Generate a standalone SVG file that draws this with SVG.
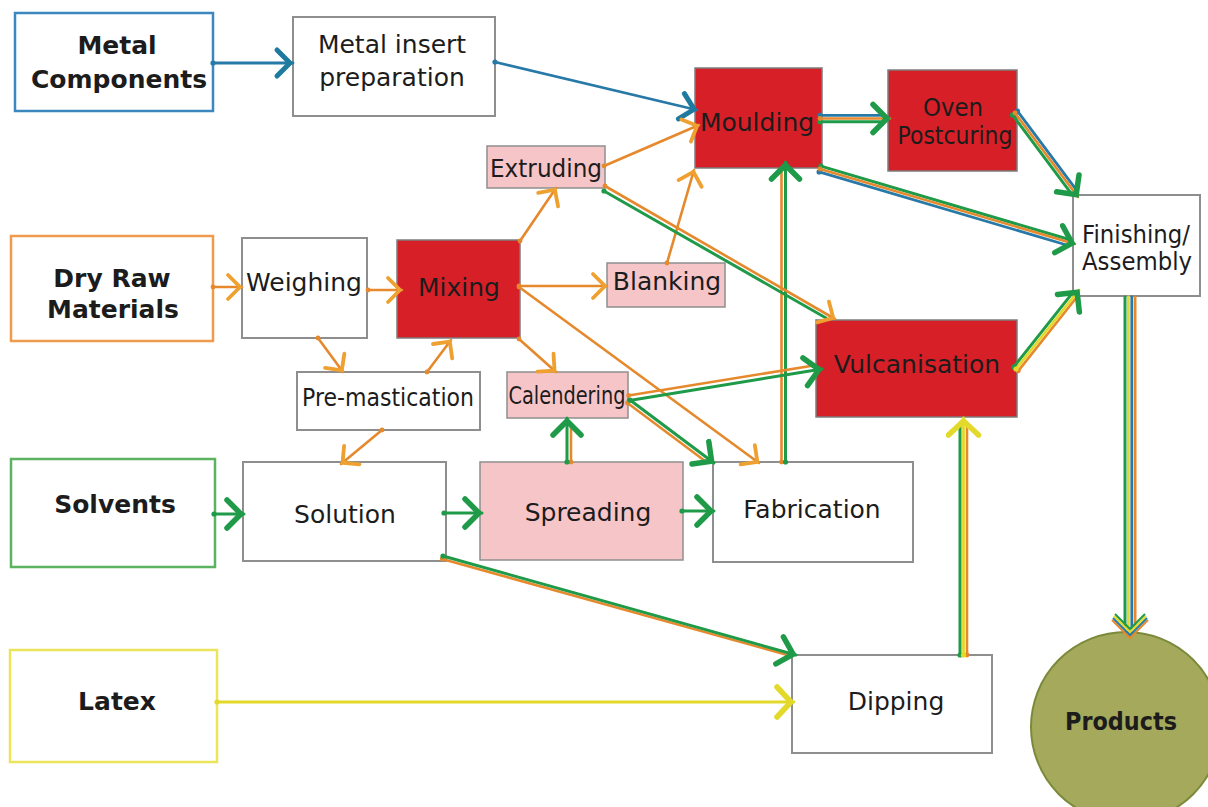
<svg xmlns="http://www.w3.org/2000/svg" width="1208" height="807" viewBox="0 0 1208 807">
<style>
.t{font-family:"DejaVu Sans",Verdana,sans-serif;font-size:25px;fill:#1c1c1c;text-anchor:middle;dominant-baseline:central}
.b{font-weight:bold}
.box{fill:#fff;stroke:#8e8e8e;stroke-width:2}
.red{fill:#d71f27;stroke:#7d7d7d;stroke-width:1.5}
.pink{fill:#f6c5c8;stroke:#8e8e8e;stroke-width:1.5}
.c{fill:none;stroke-linecap:round}
.o{stroke:#e6892c;stroke-width:2.6}
.g{stroke:#1e9a48;stroke-width:3}
.bl{stroke:#2779a7;stroke-width:2.8}
.y{stroke:#e3d92a;stroke-width:2.8}
</style>
<defs>
<marker id="mo" viewBox="-20 -18 24 36" refX="0" refY="0" markerWidth="24" markerHeight="36" markerUnits="userSpaceOnUse" orient="auto"><path d="M-14,-12 L-2,0 L-14,12" fill="none" stroke="#eea030" stroke-width="3.8" stroke-linecap="round"/></marker>
<marker id="mg" viewBox="-20 -18 24 36" refX="0" refY="0" markerWidth="24" markerHeight="36" markerUnits="userSpaceOnUse" orient="auto"><path d="M-17,-14 L-3,0 L-17,14" fill="none" stroke="#1e9a48" stroke-width="5.5" stroke-linecap="round"/></marker>
<marker id="mb" viewBox="-20 -18 24 36" refX="0" refY="0" markerWidth="24" markerHeight="36" markerUnits="userSpaceOnUse" orient="auto"><path d="M-16,-13 L-3,0 L-16,13" fill="none" stroke="#1f7aa0" stroke-width="5" stroke-linecap="round"/></marker>
<marker id="my" viewBox="-20 -18 24 36" refX="0" refY="0" markerWidth="24" markerHeight="36" markerUnits="userSpaceOnUse" orient="auto"><path d="M-17,-15 L-3,0 L-17,15" fill="none" stroke="#e3d92a" stroke-width="5.5" stroke-linecap="round"/></marker>
<marker id="dO" viewBox="-4 -4 8 8" refX="0" refY="0" markerWidth="8" markerHeight="8" markerUnits="userSpaceOnUse"><circle r="2.4" fill="#e6892c"/></marker>
<marker id="dG" viewBox="-4 -4 8 8" refX="0" refY="0" markerWidth="8" markerHeight="8" markerUnits="userSpaceOnUse"><circle r="2.6" fill="#1e9a48"/></marker>
<marker id="dB" viewBox="-4 -4 8 8" refX="0" refY="0" markerWidth="8" markerHeight="8" markerUnits="userSpaceOnUse"><circle r="2.6" fill="#2779a7"/></marker>
<marker id="dY" viewBox="-4 -4 8 8" refX="0" refY="0" markerWidth="8" markerHeight="8" markerUnits="userSpaceOnUse"><circle r="2.6" fill="#e3d92a"/></marker>
</defs>

<g id="metal-components"><rect x="15" y="13" width="198" height="98" fill="#fff" stroke="#3d87bf" stroke-width="2.5"/><text class="t b" x="117" y="45" font-size="24">Metal</text><text class="t b" x="119" y="79" font-size="24">Components</text></g>
<g id="metal-insert"><rect class="box" x="293" y="17" width="202" height="99"/><text class="t" x="392" y="44" font-size="27">Metal insert</text><text class="t" x="392" y="77" font-size="27">preparation</text></g>
<g id="moulding"><rect class="red" x="695" y="68" width="127" height="100"/><text class="t" x="757" y="122">Moulding</text></g>
<g id="oven"><rect class="red" x="888" y="70" width="129" height="101"/><text class="t" x="953" y="107" font-size="24" textLength="60" lengthAdjust="spacingAndGlyphs">Oven</text><text class="t" x="955" y="135" font-size="24" textLength="115" lengthAdjust="spacingAndGlyphs">Postcuring</text></g>
<g id="finishing"><rect class="box" x="1073" y="195" width="127" height="101"/><text class="t" x="1136" y="234" font-size="24" textLength="108" lengthAdjust="spacingAndGlyphs">Finishing/</text><text class="t" x="1137" y="261" font-size="24" textLength="110" lengthAdjust="spacingAndGlyphs">Assembly</text></g>
<g id="extruding"><rect class="pink" x="487" y="146" width="118" height="42"/><text class="t" x="546" y="168" font-size="23" textLength="112" lengthAdjust="spacingAndGlyphs">Extruding</text></g>
<g id="dry-raw"><rect x="11" y="236" width="202" height="105" fill="#fff" stroke="#ef9a4c" stroke-width="2.5"/><text class="t b" x="112" y="278">Dry Raw</text><text class="t b" x="113" y="309">Materials</text></g>
<g id="weighing"><rect class="box" x="242" y="238" width="125" height="100"/><text class="t" x="304" y="282">Weighing</text></g>
<g id="mixing"><rect class="red" x="397" y="240" width="123" height="98"/><text class="t" x="459" y="287">Mixing</text></g>
<g id="blanking"><rect class="pink" x="607" y="263" width="118" height="44"/><text class="t" x="667" y="281">Blanking</text></g>
<g id="pre-mastication"><rect class="box" x="297" y="372" width="183" height="58"/><text class="t" x="388" y="397" font-size="22" textLength="172" lengthAdjust="spacingAndGlyphs">Pre-mastication</text></g>
<g id="calendering"><rect class="pink" x="507" y="372" width="121" height="46"/><text class="t" x="567" y="395" font-size="20" textLength="117" lengthAdjust="spacingAndGlyphs">Calendering</text></g>
<g id="vulcanisation"><rect class="red" x="816" y="320" width="201" height="97"/><text class="t" x="917" y="364">Vulcanisation</text></g>
<g id="solvents"><rect x="11" y="459" width="204" height="108" fill="#fff" stroke="#5bb25f" stroke-width="2.5"/><text class="t b" x="115" y="504">Solvents</text></g>
<g id="solution"><rect class="box" x="243" y="462" width="203" height="99"/><text class="t" x="345" y="514">Solution</text></g>
<g id="spreading"><rect class="pink" x="480" y="462" width="203" height="98"/><text class="t" x="588" y="512">Spreading</text></g>
<g id="fabrication"><rect class="box" x="713" y="462" width="200" height="100"/><text class="t" x="812" y="509">Fabrication</text></g>
<g id="latex"><rect x="10" y="650" width="207" height="112" fill="#fff" stroke="#ece45a" stroke-width="2.5"/><text class="t b" x="117" y="701">Latex</text></g>
<g id="dipping"><rect class="box" x="792" y="655" width="200" height="98"/><text class="t" x="896" y="701" font-size="23">Dipping</text></g>
<g id="products"><circle cx="1126" cy="727" r="95" fill="#a5a95b" stroke="#7b8a3a" stroke-width="2"/><text class="t b" x="1121" y="721" font-size="24" textLength="112" lengthAdjust="spacingAndGlyphs">Products</text></g>

<g id="connectors">
<path class="c bl" d="M213,63 L293,63" marker-start="url(#dB)" marker-end="url(#mb)"/>
<path class="c bl" d="M495,62 L697,110" marker-start="url(#dB)" marker-end="url(#mb)"/>
<path class="c o" d="M213,287 L242,287" marker-start="url(#dO)" marker-end="url(#mo)"/>
<path class="c o" d="M368,290 L402,290" marker-start="url(#dO)" marker-end="url(#mo)"/>
<path class="c o" d="M318,338 L343,372" marker-start="url(#dO)" marker-end="url(#mo)"/>
<path class="c o" d="M427,372 L451,340" marker-start="url(#dO)" marker-end="url(#mo)"/>
<path class="c o" d="M382,430 L341,464" marker-start="url(#dO)" marker-end="url(#mo)"/>
<path class="c o" d="M520,241 L556,188" marker-start="url(#dO)" marker-end="url(#mo)"/>
<path class="c o" d="M519,286 L607,286" marker-start="url(#dO)" marker-end="url(#mo)"/>
<path class="c o" d="M519,339 L556,372" marker-start="url(#dO)" marker-end="url(#mo)"/>
<path class="c o" d="M519,287 L759,463" marker-start="url(#dO)" marker-end="url(#mo)"/>
<path class="c o" d="M604,166 L699,125" marker-start="url(#dO)" marker-end="url(#mo)"/>
<path class="c o" d="M667,263 L694,170" marker-start="url(#dO)" marker-end="url(#mo)"/>
<path class="c g" d="M214,514 L244,514" marker-start="url(#dG)" marker-end="url(#mg)"/>
<path class="c g" d="M444,513 L482,513" marker-start="url(#dG)" marker-end="url(#mg)"/>
<path class="c g" d="M682,511 L714,511" marker-start="url(#dG)" marker-end="url(#mg)"/>
<path class="c y" d="M217,702 L794,702" marker-start="url(#dY)" marker-end="url(#my)"/>

<path class="c bl" d="M820,115.3 L884,115.3" marker-start="url(#dB)"/>
<path class="c g" d="M820,121.7 L884,121.7" marker-start="url(#dG)"/>
<path class="c o" d="M820,118.5 L890,118.5" marker-start="url(#dO)" marker-end="url(#mg)"/>
<path class="c bl" d="M1017.5,111.1 L1076.5,190.1" marker-start="url(#dB)"/>
<path class="c g" d="M1012.5,114.9 L1071.5,193.9" marker-start="url(#dG)"/>
<path class="c o" d="M1015,113 L1078,197" marker-start="url(#dO)" marker-end="url(#mg)"/>
<path class="c g" d="M820.9,166.1 L1070.1,239.7" marker-start="url(#dG)"/>
<path class="c bl" d="M819.1,171.9 L1068.3,245.5" marker-start="url(#dB)"/>
<path class="c o" d="M820,169 L1075,244" marker-start="url(#dO)" marker-end="url(#mg)"/>
<path class="c g" d="M1013.7,367.1 L1072.5,292.9" marker-start="url(#dG)"/>
<path class="c o" d="M1018.3,370.9 L1077.1,296.8" marker-start="url(#dO)"/>
<path class="c y" d="M1016,369 L1079,290" marker-start="url(#dY)" marker-end="url(#mg)"/>
<path class="c g" d="M1125,297 L1125,626"/>
<path class="c y" d="M1128.4,297 L1128.4,628"/>
<path class="c bl" d="M1131.8,297 L1131.8,628"/>
<path class="c o" d="M1135.2,297 L1135.2,626"/>
<path d="M1112,620 L1130,638 L1148,620" fill="none" stroke="#e6892c" stroke-width="2"/>
<path d="M1113,618 L1130,635 L1147,618" fill="none" stroke="#2779a7" stroke-width="2"/>
<path d="M1114,616 L1130,632 L1146,616" fill="none" stroke="#e3d92a" stroke-width="2"/>
<path d="M1115,614 L1130,629 L1145,614" fill="none" stroke="#1e9a48" stroke-width="2"/>
<path class="c g" d="M960,655 L960,425" marker-start="url(#dG)"/>
<path class="c o" d="M967,655 L967,425" marker-start="url(#dO)"/>
<path class="c y" d="M963.5,655 L963.5,418" marker-start="url(#dY)" marker-end="url(#my)"/>
<path class="c o" d="M781.5,462 L781.5,170" marker-start="url(#dO)"/>
<path class="c g" d="M785.5,462 L785.5,162" marker-start="url(#dG)" marker-end="url(#mg)"/>
<path class="c g" d="M604,191 L826,318" marker-start="url(#dG)"/>
<path class="c o" d="M605,186 L835,319" marker-start="url(#dO)" marker-end="url(#mo)"/>
<path class="c o" d="M628.6,395.5 L813.7,365.5" marker-start="url(#dO)"/>
<path class="c g" d="M629.4,400.5 L822,369" marker-start="url(#dG)" marker-end="url(#mg)"/>
<path class="c o" d="M627.5,403 L705,461" marker-start="url(#dO)"/>
<path class="c g" d="M630,400 L714,463" marker-start="url(#dG)" marker-end="url(#mg)"/>
<path class="c o" d="M571,462 L571,426" marker-start="url(#dO)"/>
<path class="c g" d="M567,462 L567,418" marker-start="url(#dG)" marker-end="url(#mg)"/>
<path class="c o" d="M442.2,559 L788.4,655.3" marker-start="url(#dO)"/>
<path class="c g" d="M443,556 L796,655" marker-start="url(#dG)" marker-end="url(#mg)"/>
</g>
</svg>
